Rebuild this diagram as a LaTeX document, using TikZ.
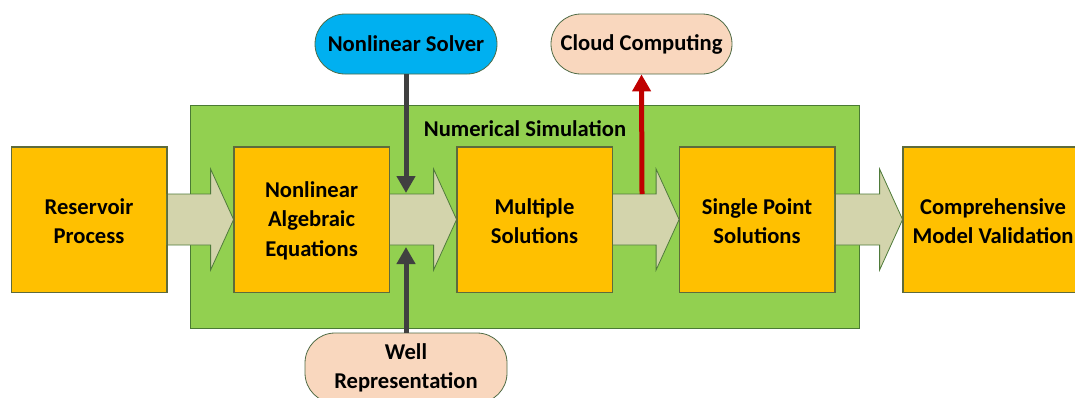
\documentclass[tikz,border=0pt]{standalone}
\usepackage{fontspec}
\setmainfont{Carlito}
\usetikzlibrary{arrows.meta,calc}

\definecolor{boxfill}{HTML}{FFC000}
\definecolor{boxline}{HTML}{5E6B3C}
\definecolor{simfill}{HTML}{92D050}
\definecolor{simline}{HTML}{4A7A34}
\definecolor{shaft}{HTML}{D3D4AC}
\definecolor{shaftline}{HTML}{4F7B3A}
\definecolor{solverfill}{HTML}{00B0F0}
\definecolor{peach}{HTML}{F9D7BE}
\definecolor{pillline}{HTML}{4F6B45}
\definecolor{darkarrow}{HTML}{404040}
\definecolor{redarrow}{HTML}{C00000}

\tikzset{
  x=1pt, y=-1pt,
  every node/.style={font=\fontsize{22.6}{29.5}\selectfont\bfseries, align=center, inner sep=0pt},
  stagebox/.style={draw=boxline, line width=0.8pt, fill=boxfill,
    minimum width=155pt, minimum height=145pt},
  simbox/.style={draw=simline, line width=0.9pt, fill=simfill,
    minimum width=669pt, minimum height=223pt},
  pill/.style={draw=pillline, line width=0.8pt, rounded corners=30pt,
    minimum width=182pt, minimum height=60pt},
  feed/.style={line width=5pt, -{Triangle[width=18pt,length=17pt]}},
}

% block arrow between two stage boxes
\newcommand\flowarrow[2]{%
  \path[fill=shaft, draw=shaftline, line width=0.8pt]
    let \p1=(#1.east), \p2=(#2.west) in
    (\x1,\y2+25.5pt) -- (\x2-23pt,\y2+25.5pt) -- (\x2-23pt,\y2+50.5pt)
    -- (\x2,\y2) -- (\x2-23pt,\y2-50.5pt) -- (\x2-23pt,\y2-25.5pt)
    -- (\x1,\y2-25.5pt) -- cycle;}

\begin{document}
\begin{tikzpicture}
\useasboundingbox (0,0) rectangle (1075,397);

% simulation frame
\node[simbox] (sim) at (524.5,216.5) {};
\node (simlabel) at (525,129) {Numerical Simulation};

% stage boxes
\node[stagebox] (rp) at (89,219.5) {};
\node[stagebox] (nae) at (311.5,219.5) {};
\node[stagebox] (ms) at (534.5,219.5) {};
\node[stagebox] (sps) at (757,219.5) {};
\node[stagebox, minimum width=180pt] (cmv) at (993,219.5) {};

% block arrows
\flowarrow{rp}{nae}
\flowarrow{nae}{ms}
\flowarrow{ms}{sps}
\flowarrow{sps}{cmv}

% redraw box outlines over arrow tips
\foreach \b in {rp,nae,ms,sps,cmv}
  \draw[boxline, line width=0.8pt] (\b.south west) rectangle (\b.north east);

% stage labels
\node at (89,221) {Reservoir\\Process};
\node at (311.5,220.5) {Nonlinear\\Algebraic\\Equations};
\node at (534.5,221) {Multiple\\Solutions};
\node at (757,221) {Single Point\\Solutions};
\node at (993,221) {Comprehensive\\Model Validation};

% side inputs and output
\node[pill, fill=solverfill] (solver) at (406,44) {Nonlinear Solver};
\node[pill, fill=peach, minimum width=181pt] (cloud) at (641.5,44) {\raisebox{-1.5pt}{Cloud Computing}};
\node[pill, fill=peach, minimum width=202pt, minimum height=70pt] (well) at (406,368) {Well\\Representation};

\coordinate (solverin) at (406,193);
\coordinate (wellin) at (406,247);
\coordinate (cloudout) at (642,194);

\draw[feed, darkarrow] (solver.south) -- (solverin);
\draw[feed, darkarrow] (well.north) -- (wellin);
\draw[feed, redarrow] (cloudout) -- (cloud.south);
\end{tikzpicture}
\end{document}
